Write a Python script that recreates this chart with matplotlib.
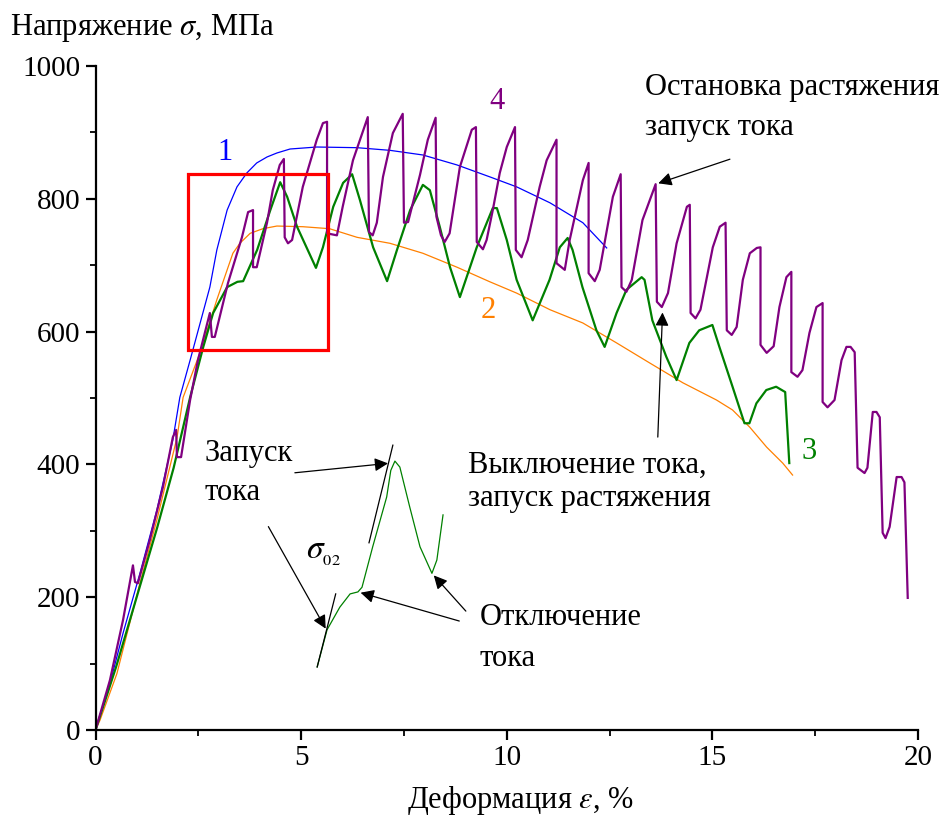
import matplotlib
matplotlib.use("Agg")
import matplotlib.pyplot as plt
from matplotlib.patches import Rectangle

plt.rcParams['font.family'] = ['Liberation Serif', 'DejaVu Serif']
plt.rcParams['mathtext.fontset'] = 'stix'

# кривая 1 (синяя)
x1 = [0, 0.35, 0.67, 1.08, 1.49, 1.88, 2.05, 2.30, 2.78, 2.95, 3.20, 3.44, 3.68, 3.92,
      4.17, 4.41, 4.73, 5.38, 6.36, 7.16, 7.96, 8.79, 9.59, 10.24, 11.05, 11.85, 12.43]
y1 = [0, 70, 146, 236, 331, 437, 501, 557, 667, 723, 783, 818, 839, 854,
      863, 869, 875, 878, 877, 873, 866, 851, 833, 818, 794, 764, 726]

# кривая 2 (оранжевая)
x2 = [0, 0.11, 0.52, 0.77, 1.08, 1.49, 1.98, 2.13, 2.54, 2.95, 3.34, 3.51, 3.76, 4.07,
      4.41, 5.04, 5.69, 6.36, 7.16, 7.96, 8.79, 9.59, 10.24, 11.05, 11.85, 12.67,
      13.47, 14.28, 15.10, 15.49, 15.91, 16.32, 16.71, 16.95]
y2 = [0, 15, 85, 146, 221, 316, 440, 501, 568, 648, 718, 733, 748, 755,
      759, 758, 755, 742, 733, 718, 697, 675, 658, 633, 613, 583,
      553, 523, 497, 482, 456, 426, 402, 384]

# кривая 3 (зелёная)
x3 = [0, 0.5, 1.0, 1.5, 1.9, 2.30, 2.62, 2.86, 3.20, 3.45, 3.59, 3.93, 4.25, 4.49, 4.66,
      4.90, 5.36, 5.53, 5.78, 6.02, 6.24, 6.43, 6.75, 7.09, 7.33, 7.65, 7.96, 8.13,
      8.37, 8.62, 8.86, 9.27, 9.66, 9.76, 10.0, 10.24, 10.63, 11.04, 11.29, 11.48,
      11.60, 11.84, 12.18, 12.38, 12.67, 12.91, 13.28, 13.35, 13.54, 13.88, 14.13,
      14.44, 14.68, 15.0, 15.17, 15.49, 15.78, 15.90, 16.07, 16.31, 16.55, 16.77, 16.87]
y3 = [0, 95, 200, 305, 395, 501, 577, 628, 667, 675, 676, 723, 783, 825, 803,
      758, 696, 727, 788, 824, 837, 798, 727, 676, 723, 783, 821, 813,
      758, 697, 652, 727, 786, 786, 738, 678, 617, 678, 727, 741,
      723, 667, 602, 577, 628, 663, 682, 678, 617, 562, 527,
      583, 602, 610, 577, 517, 462, 462, 492, 512, 517, 509, 402]

# кривая 4 (фиолетовая)
x4 = [0, 0.35, 0.67, 0.91, 0.96, 1.03, 1.32, 1.64, 1.88, 1.96, 1.98, 2.08, 2.30, 2.49,
      2.78, 2.83, 2.90, 3.22, 3.56, 3.71, 3.83, 3.83, 3.92, 4.17, 4.31, 4.48, 4.58,
      4.60, 4.68, 4.78, 5.04, 5.38, 5.53, 5.63, 5.63, 5.87, 6.01, 6.26, 6.62, 6.65,
      6.74, 6.84, 6.99, 7.23, 7.47, 7.50, 7.60, 7.89, 8.08, 8.27, 8.29, 8.40, 8.49,
      8.61, 8.86, 9.15, 9.25, 9.27, 9.42, 9.51, 9.66, 9.83, 10.0, 10.20, 10.22, 10.36,
      10.51, 10.80, 10.97, 11.21, 11.21, 11.41, 11.53, 11.85, 11.99, 11.99, 12.14,
      12.26, 12.58, 12.77, 12.79, 12.91, 13.04, 13.30, 13.62, 13.65, 13.77, 13.92,
      14.13, 14.38, 14.45, 14.47, 14.59, 14.71, 15.01, 15.18, 15.32, 15.35, 15.47,
      15.59, 15.74, 15.91, 16.08, 16.17, 16.17, 16.32, 16.49, 16.63, 16.80, 16.92,
      16.92, 17.07, 17.19, 17.36, 17.53, 17.68, 17.68, 17.80, 17.97, 18.14, 18.26,
      18.36, 18.46, 18.53, 18.70, 18.77, 18.90, 18.99, 19.07, 19.14, 19.21, 19.31,
      19.48, 19.60, 19.67, 19.75]
y4 = [0, 75, 166, 248, 223, 221, 286, 366, 441, 452, 411, 411, 497, 557,
      628, 592, 592, 673, 742, 780, 783, 697, 697, 764, 813, 851, 860,
      742, 733, 738, 818, 889, 914, 916, 748, 745, 788, 858, 923, 750,
      745, 764, 833, 899, 928, 764, 765, 836, 889, 922, 773, 745, 735,
      748, 848, 904, 908, 735, 724, 738, 783, 839, 878, 908, 723, 712,
      738, 818, 858, 889, 703, 693, 738, 828, 854, 688, 676,
      693, 803, 837, 667, 660, 678, 768, 822, 645, 637, 658,
      733, 788, 791, 628, 620, 633, 727, 758, 764, 602, 595,
      607, 678, 718, 726, 727, 580, 568, 578, 637, 682, 690,
      539, 532, 542, 598, 637, 643, 494, 486, 497, 557, 577,
      577, 569, 395, 387, 395, 479, 479, 471, 297, 289, 306,
      381, 381, 373, 199]

# схема-вставка
xi = [5.39, 5.63, 5.94, 6.19, 6.38, 6.48, 6.74, 7.08, 7.18, 7.28, 7.40, 7.64, 7.89,
      8.18, 8.30, 8.45]
yi = [95, 151, 185, 205, 208, 215, 276, 351, 391, 405, 396, 336, 276, 236, 256, 324]
tan_low_x, tan_low_y = [5.39, 5.84], [95, 205]
tan_up_x, tan_up_y = [6.65, 7.23], [282, 429]

fig = plt.figure(figsize=(9.43, 8.21), dpi=100)
ax = fig.add_axes([0.1013, 0.1108, 0.8722, 0.8088])
ax.set_xlim(0, 20)
ax.set_ylim(0, 1000)

ax.plot(x1, y1, color='#0000ff', lw=0.9)
ax.plot(x2, y2, color='#ff8000', lw=0.9)
ax.plot(x3, y3, color='#008000', lw=1.6)
ax.plot(x4, y4, color='#800080', lw=1.6)

ax.plot(xi, yi, color='#008000', lw=0.9)
ax.plot(tan_low_x, tan_low_y, color='black', lw=0.9)
ax.plot(tan_up_x, tan_up_y, color='black', lw=0.9)

ax.add_patch(Rectangle((2.24, 572), 5.65 - 2.24, 837 - 572, fill=False,
                       edgecolor='#ff0000', lw=2.3, zorder=5))

fs = 22
ax.text(3.15, 870, '1', color='#0000ff', fontsize=fs, ha='center', va='center')
ax.text(9.54, 632, '2', color='#ff8000', fontsize=fs, ha='center', va='center')
ax.text(17.36, 419, '3', color='#008000', fontsize=fs, ha='center', va='center')
ax.text(9.76, 946, '4', color='#800080', fontsize=fs, ha='center', va='center')

ax.text(13.36, 967, 'Остановка растяжения', fontsize=fs, va='center')
ax.text(13.36, 907, 'запуск тока', fontsize=fs, va='center')
ax.text(9.05, 399, 'Выключение тока,', fontsize=fs, va='center')
ax.text(9.05, 349, 'запуск растяжения', fontsize=fs, va='center')
ax.text(2.66, 417, 'Запуск', fontsize=fs, va='center')
ax.text(2.66, 357, 'тока', fontsize=fs, va='center')
ax.text(9.34, 169, 'Отключение', fontsize=fs, va='center')
ax.text(9.34, 107, 'тока', fontsize=fs, va='center')
ax.text(5.12, 267, r'$\sigma_{_{02}}$', fontsize=24, va='center')

arr = dict(arrowstyle='-|>', color='black', lw=0.9, mutation_scale=20)
ax.annotate('', xy=(13.62, 822), xytext=(15.49, 861), arrowprops=arr)
ax.annotate('', xy=(13.79, 633), xytext=(13.67, 437), arrowprops=arr)
ax.annotate('', xy=(7.18, 402), xytext=(4.78, 387), arrowprops=arr)
ax.annotate('', xy=(5.63, 149), xytext=(4.17, 310), arrowprops=arr)
ax.annotate('', xy=(6.38, 208), xytext=(8.91, 163), arrowprops=arr)
ax.annotate('', xy=(8.18, 236), xytext=(9.05, 176), arrowprops=arr)

for s in ['top', 'right']:
    ax.spines[s].set_visible(False)
for s in ['left', 'bottom']:
    ax.spines[s].set_linewidth(1.6)

ax.set_xticks([0, 5, 10, 15, 20])
ax.set_xticks([2.5, 7.5, 12.5, 17.5], minor=True)
ax.set_yticks([0, 200, 400, 600, 800, 1000])
ax.set_yticks([100, 300, 500, 700, 900], minor=True)
ax.tick_params(which='major', direction='out', length=7, width=1.6, labelsize=21, pad=4)
ax.tick_params(which='minor', direction='out', length=4, width=1.3)

fig.text(10 / 943, 1 - 28 / 821, r'Напряжение $\sigma$, МПа', fontsize=22, va='center', ha='left')
fig.text(520 / 943, 1 - 800 / 821, r'Деформация $\varepsilon$, %', fontsize=22, va='center', ha='center')

fig.savefig('out.png', dpi=100)
